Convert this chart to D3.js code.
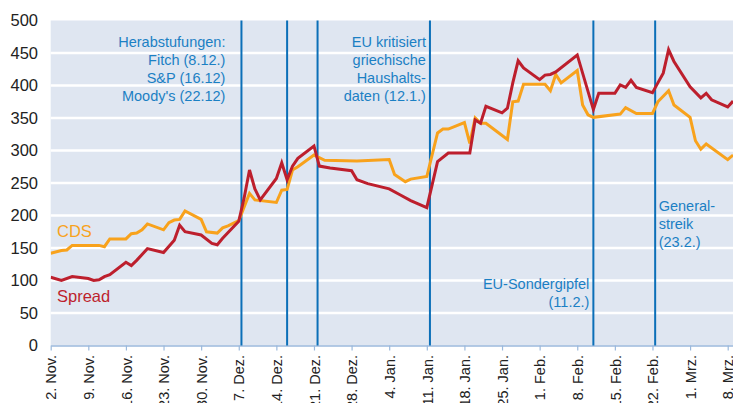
<!DOCTYPE html>
<html>
<head>
<meta charset="utf-8">
<script src="https://cdn.jsdelivr.net/npm/d3@7"></script>
<style>
  body { margin: 0; background: #fff; }
  svg { display: block; font-family: "Liberation Sans", Arial, sans-serif; }
</style>
</head>
<body>
<div class="chart"></div>
<script>
const width = 733,
  height = 403;
const marginLeft = 50.7,
  marginTop = 20.5,
  plotBottom = 345.5;

// CDS series (basis points)
const cds = [
  ["2009-11-02", 142], ["2009-11-04", 146], ["2009-11-05", 147], ["2009-11-06", 154],
  ["2009-11-11", 154], ["2009-11-12", 152], ["2009-11-13", 164], ["2009-11-16", 164],
  ["2009-11-17", 172], ["2009-11-18", 173], ["2009-11-19", 178], ["2009-11-20", 187],
  ["2009-11-23", 178], ["2009-11-24", 189], ["2009-11-25", 193], ["2009-11-26", 194],
  ["2009-11-27", 207], ["2009-11-30", 194], ["2009-12-01", 175], ["2009-12-03", 173],
  ["2009-12-04", 181], ["2009-12-05", 184], ["2009-12-07", 192], ["2009-12-09", 234],
  ["2009-12-10", 224], ["2009-12-14", 220], ["2009-12-15", 239], ["2009-12-16", 240],
  ["2009-12-17", 270], ["2009-12-18", 275], ["2009-12-21", 293], ["2009-12-23", 285],
  ["2009-12-29", 284], ["2010-01-04", 286], ["2010-01-05", 263], ["2010-01-07", 252],
  ["2010-01-08", 256], ["2010-01-11", 260], ["2010-01-13", 327], ["2010-01-14", 333],
  ["2010-01-15", 333], ["2010-01-18", 343], ["2010-01-19", 311], ["2010-01-20", 350],
  ["2010-01-21", 342], ["2010-01-22", 342], ["2010-01-26", 317], ["2010-01-27", 375],
  ["2010-01-28", 376], ["2010-01-29", 402], ["2010-02-02", 402], ["2010-02-03", 392],
  ["2010-02-04", 417], ["2010-02-05", 404], ["2010-02-08", 423], ["2010-02-09", 370],
  ["2010-02-10", 355], ["2010-02-11", 351], ["2010-02-16", 356], ["2010-02-17", 366],
  ["2010-02-19", 357], ["2010-02-22", 357], ["2010-02-23", 375], ["2010-02-25", 392],
  ["2010-02-26", 370], ["2010-03-01", 351], ["2010-03-02", 315], ["2010-03-03", 302],
  ["2010-03-04", 310], ["2010-03-08", 286], ["2010-03-09", 293],
];

// Spread series (basis points)
const spread = [
  ["2009-11-02", 105], ["2009-11-04", 100], ["2009-11-06", 106], ["2009-11-09", 103],
  ["2009-11-10", 100], ["2009-11-11", 101], ["2009-11-12", 106], ["2009-11-13", 109],
  ["2009-11-16", 128], ["2009-11-17", 123], ["2009-11-18", 131], ["2009-11-20", 149],
  ["2009-11-23", 143], ["2009-11-25", 162], ["2009-11-26", 185], ["2009-11-27", 175],
  ["2009-11-30", 170], ["2009-12-02", 157], ["2009-12-03", 155], ["2009-12-04", 165],
  ["2009-12-07", 191], ["2009-12-08", 227], ["2009-12-09", 270], ["2009-12-10", 241],
  ["2009-12-11", 224], ["2009-12-14", 257], ["2009-12-15", 281], ["2009-12-16", 255],
  ["2009-12-17", 276], ["2009-12-18", 288], ["2009-12-21", 307], ["2009-12-22", 276],
  ["2009-12-24", 273], ["2009-12-28", 269], ["2009-12-29", 255], ["2009-12-31", 249],
  ["2010-01-04", 241], ["2010-01-06", 232], ["2010-01-08", 223], ["2010-01-11", 212],
  ["2010-01-13", 283], ["2010-01-15", 296], ["2010-01-19", 296], ["2010-01-20", 347],
  ["2010-01-21", 342], ["2010-01-22", 368], ["2010-01-25", 358], ["2010-01-26", 365],
  ["2010-01-27", 404], ["2010-01-28", 438], ["2010-01-29", 427], ["2010-02-01", 409],
  ["2010-02-02", 416], ["2010-02-03", 417], ["2010-02-04", 421], ["2010-02-08", 447],
  ["2010-02-11", 363], ["2010-02-12", 388], ["2010-02-15", 388], ["2010-02-16", 401],
  ["2010-02-17", 397], ["2010-02-18", 408], ["2010-02-19", 397], ["2010-02-22", 389],
  ["2010-02-23", 404], ["2010-02-24", 419], ["2010-02-25", 455], ["2010-02-26", 437],
  ["2010-03-01", 398], ["2010-03-03", 381], ["2010-03-04", 388], ["2010-03-05", 378],
  ["2010-03-08", 367], ["2010-03-09", 376],
];

const yTicks = [0, 50, 100, 150, 200, 250, 300, 350, 400, 450, 500];
const tickDates = [
  "2009-11-02", "2009-11-09", "2009-11-16", "2009-11-23", "2009-11-30",
  "2009-12-07", "2009-12-14", "2009-12-21", "2009-12-28", "2010-01-04",
  "2010-01-11", "2010-01-18", "2010-01-25", "2010-02-01", "2010-02-08",
  "2010-02-15", "2010-02-22", "2010-03-01", "2010-03-08",
];
const tickLabels = [
  "2. Nov.", "9. Nov.", "16. Nov.", "23. Nov.", "30. Nov.",
  "7. Dez.", "14. Dez.", "21. Dez.", "28. Dez.", "4. Jan.",
  "11. Jan.", "18. Jan.", "25. Jan.", "1. Feb.", "8. Feb.",
  "15. Feb.", "22. Feb.", "1. Mrz.", "8. Mrz.",
];

// event lines (positions as they sit in the picture)
const events = [
  "2009-12-07T12:00Z", "2009-12-16T00:00Z", "2009-12-21T16:00Z",
  "2010-01-11T14:00Z", "2010-02-11T00:00Z", "2010-02-22T12:00Z",
];

// annotation blocks: which event they hang on, side, first baseline, lines
const notes = [
  { event: 0, side: "left", gap: 16, top: 47,
    lines: ["Herabstufungen:", "Fitch (8.12.)", "S&P (16.12)", "Moody's (22.12)"] },
  { event: 3, side: "left", gap: 4, top: 47,
    lines: ["EU kritisiert", "griechische", "Haushalts-", "daten (12.1.)"] },
  { event: 4, side: "left", gap: 4, top: 289, lines: ["EU-Sondergipfel", "(11.2.)"] },
  { event: 5, side: "right", gap: 3.5, top: 211, lines: ["General-", "streik", "(23.2.)"] },
];

const colors = {
  cds: "#f8a21c",
  spread: "#bd1f2d",
  event: "#0b6fb8",
  note: "#1b80c4",
  plot: "#dfe6f1",
  tick: "#9bb9dc",
};

const parse = d3.isoParse;

const x = d3
  .scaleUtc()
  .domain([parse("2009-11-02"), parse("2010-03-09")])
  .range([marginLeft, marginLeft + 127 * 5.373]);

const y = d3.scaleLinear().domain([0, 500]).range([plotBottom, marginTop]);

const svg = d3
  .select(".chart")
  .append("svg")
  .attr("width", width)
  .attr("height", height);

// plot background
svg
  .append("rect")
  .attr("x", marginLeft)
  .attr("y", marginTop)
  .attr("width", width - marginLeft)
  .attr("height", plotBottom - marginTop)
  .attr("fill", colors.plot);

svg
  .append("clipPath")
  .attr("id", "plot-clip")
  .append("rect")
  .attr("x", marginLeft)
  .attr("y", marginTop - 5)
  .attr("width", width - marginLeft)
  .attr("height", plotBottom - marginTop + 5);

// white grid lines
svg
  .append("g")
  .selectAll("line")
  .data(yTicks.filter((d) => d > 0 && d < 500))
  .enter()
  .append("line")
  .attr("x1", marginLeft)
  .attr("x2", width)
  .attr("y1", (d) => y(d))
  .attr("y2", (d) => y(d))
  .attr("stroke", "#fff")
  .attr("stroke-width", 2.6);

// y labels
svg
  .append("g")
  .selectAll("text")
  .data(yTicks)
  .enter()
  .append("text")
  .attr("x", 38)
  .attr("y", (d) => y(d))
  .attr("dy", "0.36em")
  .attr("text-anchor", "end")
  .attr("font-size", 16.5)
  .attr("fill", "#222")
  .text((d) => d);

// x axis
const xAxis = d3
  .axisBottom(x)
  .tickValues(tickDates.map(parse))
  .tickSize(5)
  .tickSizeOuter(0)
  .tickFormat((d, i) => tickLabels[i]);

const gx = svg
  .append("g")
  .attr("transform", `translate(0,${plotBottom})`)
  .call(xAxis);
gx.select(".domain").attr("stroke", colors.tick).attr("stroke-width", 1.5);
gx.selectAll(".tick line").attr("stroke", colors.tick).attr("stroke-width", 1.2);
gx
  .selectAll(".tick text")
  .attr("font-size", 14.5)
  .attr("font-family", "Liberation Sans, Arial, sans-serif")
  .attr("fill", "#222")
  .attr("text-anchor", "end")
  .attr("transform", "rotate(-90)")
  .attr("x", -9.5)
  .attr("y", 0)
  .attr("dy", "0.36em");

// event lines
svg
  .append("g")
  .selectAll("line")
  .data(events)
  .enter()
  .append("line")
  .attr("x1", (d) => x(parse(d)))
  .attr("x2", (d) => x(parse(d)))
  .attr("y1", marginTop)
  .attr("y2", plotBottom)
  .attr("stroke", colors.event)
  .attr("stroke-width", 2);

// series
const line = d3
  .line()
  .x((d) => x(parse(d[0])))
  .y((d) => y(d[1]));

const series = svg.append("g").attr("clip-path", "url(#plot-clip)");
series
  .append("path")
  .datum(cds)
  .attr("d", line)
  .attr("fill", "none")
  .attr("stroke", colors.cds)
  .attr("stroke-width", 3)
  .attr("stroke-linejoin", "miter");
series
  .append("path")
  .datum(spread)
  .attr("d", line)
  .attr("fill", "none")
  .attr("stroke", colors.spread)
  .attr("stroke-width", 3)
  .attr("stroke-linejoin", "miter");

// series labels
svg
  .append("text")
  .attr("x", 57)
  .attr("y", 237)
  .attr("font-size", 16.5)
  .attr("fill", colors.cds)
  .text("CDS");
svg
  .append("text")
  .attr("x", 57)
  .attr("y", 302)
  .attr("font-size", 16.5)
  .attr("fill", colors.spread)
  .text("Spread");

// annotations
notes.forEach((n) => {
  const ex = x(parse(events[n.event]));
  const tx = n.side === "left" ? ex - n.gap : ex + n.gap;
  const t = svg
    .append("text")
    .attr("font-size", 14.5)
    .attr("fill", colors.note)
    .attr("text-anchor", n.side === "left" ? "end" : "start");
  n.lines.forEach((l, i) => {
    t.append("tspan").attr("x", tx).attr("y", n.top + i * 18).text(l);
  });
});
</script>
</body>
</html>
